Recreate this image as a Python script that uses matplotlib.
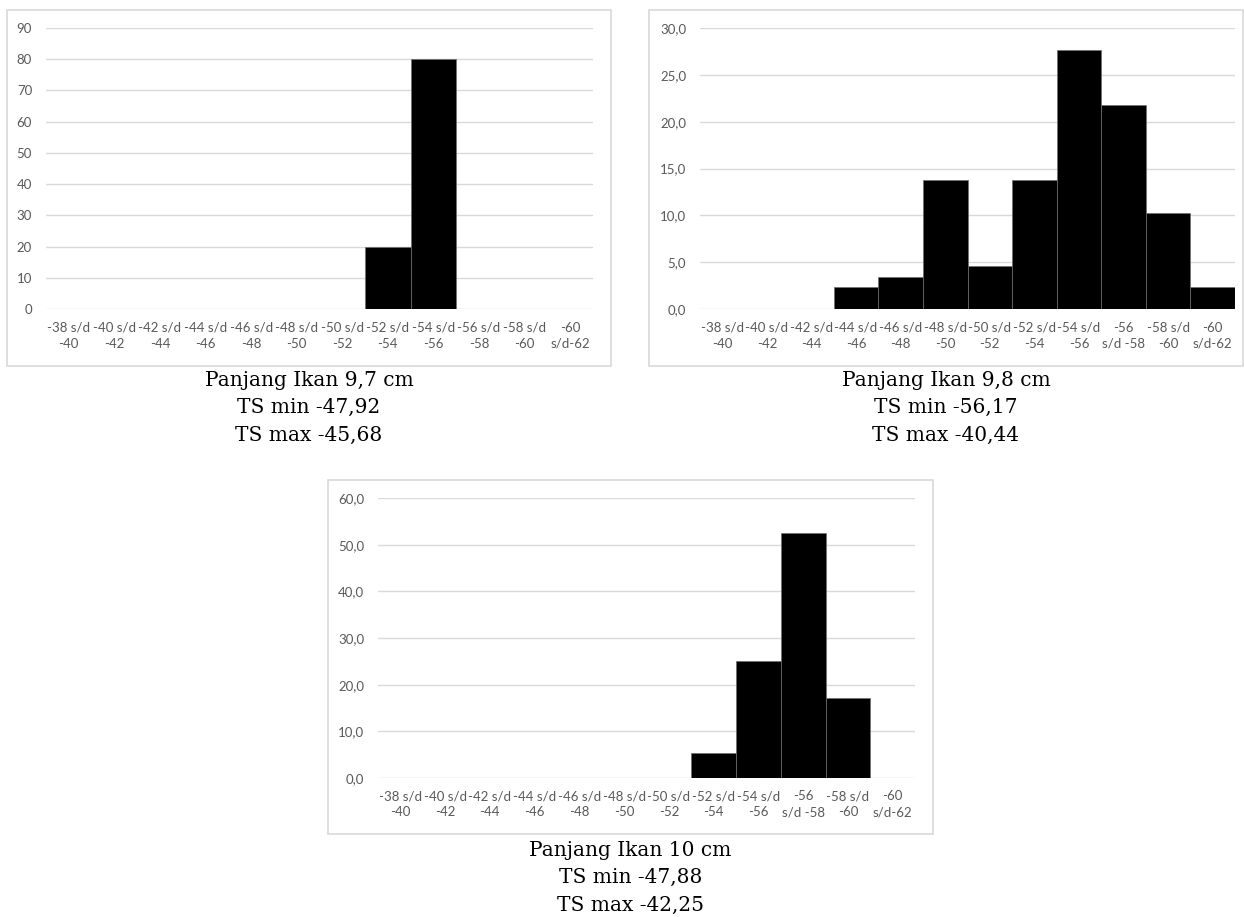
import matplotlib.pyplot as plt
from matplotlib.patches import Rectangle

# TS class intervals (dB)
cats_a = ["-38 s/d\n-40", "-40 s/d\n-42", "-42 s/d\n-44", "-44 s/d\n-46", "-46 s/d\n-48",
          "-48 s/d\n-50", "-50 s/d\n-52", "-52 s/d\n-54", "-54 s/d\n-56", "-56 s/d\n-58",
          "-58 s/d\n-60", "-60\ns/d-62"]
cats_b = cats_a[:9] + ["-56\ns/d -58", "-58 s/d\n-60", "-60\ns/d-62"]

# percentage of targets per class
pct_97 = [0, 0, 0, 0, 0, 0, 0, 20, 80, 0, 0, 0]
pct_98 = [0, 0, 0, 2.3, 3.4, 13.8, 4.6, 13.8, 27.6, 21.8, 10.3, 2.3]
pct_10 = [0, 0, 0, 0, 0, 0, 0, 5.3, 25.0, 52.6, 17.1, 0]

captions = [
    "Panjang Ikan 9,7 cm\nTS min -47,92\nTS max -45,68",
    "Panjang Ikan 9,8 cm\nTS min -56,17\nTS max -40,44",
    "Panjang Ikan 10 cm\nTS min -47,88\nTS max -42,25",
]

W, H = 1244, 917
fig = plt.figure(figsize=(W / 100, H / 100), dpi=100)
fig.patch.set_facecolor("white")

GRID = "#d9d9d9"
TXT = "#595959"


def px_axes(x0, y0, x1, y1):
    # pixel box (top-left origin) -> figure fraction axes
    return fig.add_axes([x0 / W, 1 - y1 / H, (x1 - x0) / W, (y1 - y0) / H])


def frame(x0, y0, x1, y1):
    fig.patches.append(Rectangle((x0 / W, 1 - y1 / H), (x1 - x0) / W, (y1 - y0) / H,
                                 transform=fig.transFigure, fill=False,
                                 edgecolor=GRID, linewidth=1.2))


def hist_panel(box, plot, cats, vals, ymax, step, fmt, caption, cap_y):
    frame(*box)
    ax = px_axes(*plot)
    ax.bar(range(len(cats)), vals, width=1.0, color="black",
           edgecolor="#6f6f6f", linewidth=0.5, zorder=3)
    ax.set_xlim(-0.5, len(cats) - 0.5)
    ax.set_ylim(0, ymax)
    ticks = list(range(0, ymax + 1, step))
    ax.set_yticks(ticks)
    ax.set_yticklabels([fmt(t) for t in ticks])
    ax.set_xticks(range(len(cats)))
    ax.set_xticklabels(cats, linespacing=1.4)
    ax.grid(axis="y", color=GRID, linewidth=1.0, zorder=0)
    ax.set_axisbelow(True)
    for s in ax.spines.values():
        s.set_visible(False)
    ax.tick_params(axis="both", length=0, colors=TXT, labelsize=9.5)
    ax.tick_params(axis="y", pad=10)
    ax.tick_params(axis="x", pad=9)
    for lab in ax.get_xticklabels() + ax.get_yticklabels():
        lab.set_fontfamily("Lato")
    cx = (box[0] + box[2]) / 2
    fig.text(cx / W, 1 - cap_y / H, caption, ha="center", va="top",
             fontsize=14.5, family="DejaVu Serif", linespacing=1.55)


hist_panel((7, 10, 611, 366), (46, 28, 593, 309), cats_a, pct_97, 90, 10,
           lambda v: f"{v}", captions[0], 371)
hist_panel((649, 10, 1243, 366), (700, 28, 1235, 309), cats_b, pct_98, 30, 5,
           lambda v: f"{v},0", captions[1], 371)
hist_panel((328, 480, 933, 834), (378, 498, 915, 778), cats_b, pct_10, 60, 10,
           lambda v: f"{v},0", captions[2], 841)

fig.savefig("out.png", dpi=100)
